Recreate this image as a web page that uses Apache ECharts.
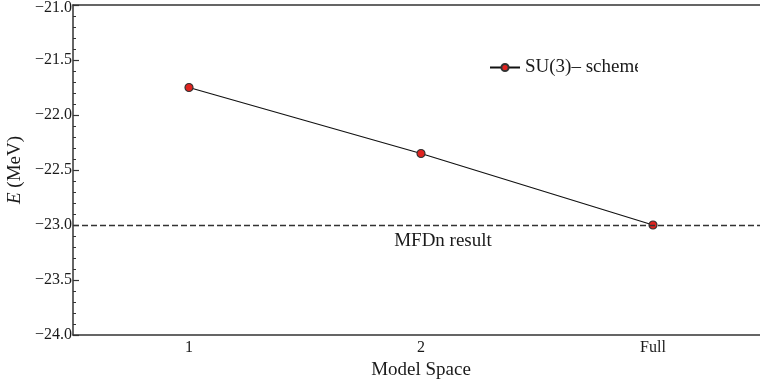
<!DOCTYPE html>
<html>
<head>
<meta charset="utf-8">
<script src="https://cdn.jsdelivr.net/npm/echarts@6/dist/echarts.min.js"></script>
<style>html,body{margin:0;padding:0;background:#fff;}#c{width:760px;height:385px;}</style>
</head>
<body>
<div id="c"></div>
<script>
const categories = ['1', '2', 'Full'];
const su3Values = [-21.75, -22.35, -23.0];
const mfdnValue = -23.0;
const yMin = -24.0, yMax = -21.0, yStep = 0.5;

const FONT = 'Liberation Serif';
const fmt = v => {
  const s = (v < 0 ? '\u2212' : '') + Math.abs(v).toFixed(1);
  return v >= yMax ? '{t|' + s + '}' : s;
};

const chart = echarts.init(document.getElementById('c'), null, {renderer: 'canvas'});
chart.setOption({
  backgroundColor: '#fff',
  animation: false,
  grid: {left: 73, top: 5, width: 696, height: 330, containLabel: false, outerBoundsMode: 'none'},
  legend: {
    left: 484, top: 53,
    itemWidth: 30, itemHeight: 9, itemGap: 6,
    textStyle: {fontFamily: FONT, fontSize: 19, color: '#1a1a1a'},
    data: ['SU(3)\u2013 scheme']
  },
  xAxis: [{
    type: 'category', data: categories, position: 'bottom', boundaryGap: true,
    name: 'Model Space', nameLocation: 'middle', nameGap: 25,
    nameTextStyle: {fontFamily: FONT, fontSize: 19, color: '#1a1a1a'},
    axisLine: {lineStyle: {color: '#333', width: 1.5}},
    axisTick: {inside: true, alignWithLabel: true, length: 6, lineStyle: {color: '#333', width: 1.2}},
    axisLabel: {fontFamily: FONT, fontSize: 16, color: '#1a1a1a', margin: 5},
    splitLine: {show: false}
  }, {
    type: 'category', data: categories, position: 'top', boundaryGap: true,
    axisLine: {lineStyle: {color: '#333', width: 1.5}},
    axisTick: {inside: true, alignWithLabel: true, length: 6, lineStyle: {color: '#333', width: 1.2}},
    axisLabel: {show: false},
    splitLine: {show: false}
  }],
  yAxis: [{
    type: 'value', min: yMin, max: yMax, interval: yStep,
    name: '{i|E} (MeV)', nameLocation: 'middle', nameGap: 43, nameRotate: 90,
    nameTextStyle: {fontFamily: FONT, fontSize: 19, color: '#1a1a1a',
      rich: {i: {fontFamily: FONT, fontStyle: 'italic', fontSize: 19, color: '#1a1a1a'}}},
    axisLine: {show: true, lineStyle: {color: '#333', width: 1.5}},
    axisTick: {show: true, inside: true, length: 6, lineStyle: {color: '#333', width: 1.2}},
    minorTick: {show: true, splitNumber: 5, length: 3, lineStyle: {color: '#333', width: 1}},
    axisLabel: {fontFamily: FONT, fontSize: 16, color: '#1a1a1a', margin: 1, formatter: fmt,
      rich: {t: {fontFamily: FONT, fontSize: 16, color: '#1a1a1a', padding: [5, 0, 0, 0]}}},
    splitLine: {show: false}
  }],
  series: [{
    name: 'SU(3)\u2013 scheme',
    type: 'line',
    data: su3Values,
    symbol: 'circle', symbolSize: 8,
    lineStyle: {color: '#111', width: 1.2},
    itemStyle: {color: '#e0231f', borderColor: '#333', borderWidth: 1.2},
    markLine: {
      silent: true, symbol: 'none',
      lineStyle: {color: '#333', type: [6, 3], width: 1.3},
      label: {show: true, position: 'insideMiddleBottom', formatter: 'MFDn result',
        fontFamily: FONT, fontSize: 19, color: '#1a1a1a', offset: [22, 2]},
      data: [{yAxis: mfdnValue}]
    }
  }],
  graphic: [{
    type: 'rect', left: 638, top: 48, z: 100,
    shape: {width: 60, height: 32},
    style: {fill: '#fff'}
  }]
});
</script>
</body>
</html>
